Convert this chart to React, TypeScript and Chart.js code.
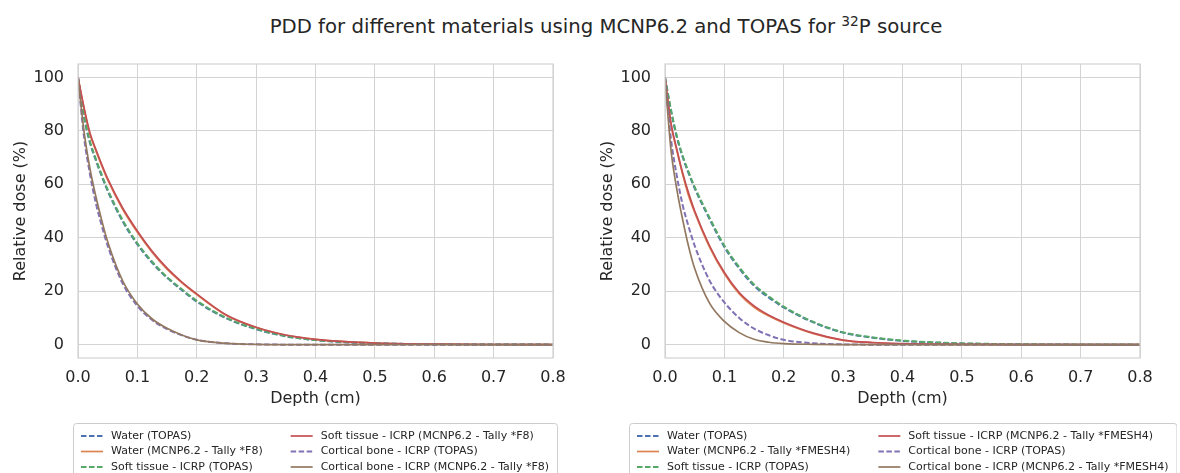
import React, { useEffect, useRef } from "react";
import { Chart, registerables } from "chart.js";

Chart.register(...registerables);

// ---------- data ----------
const DEPTH = [0, 0.01, 0.02, 0.03, 0.04, 0.05, 0.075, 0.1, 0.125, 0.15, 0.175, 0.2, 0.25, 0.3, 0.35, 0.4, 0.45, 0.5, 0.6, 0.7, 0.8];
const X_TICKS = [0, 0.1, 0.2, 0.3, 0.4, 0.5, 0.6, 0.7, 0.8];
const Y_TICKS = [0, 20, 40, 60, 80, 100];

// Left panel (MCNP6.2 Tally *F8)
const WATER_TOPAS_L = [100, 85.3, 75.6, 69, 63, 57.5, 46.2, 37.5, 30.6, 25, 20.4, 16.1, 9.8, 5.8, 3.1, 1.7, 0.9, 0.5, 0.15, 0.05, 0];
const WATER_MCNP_L = [100, 88.4, 78.8, 72.6, 66.9, 61.6, 50.7, 42, 34.5, 28.2, 23.1, 18.7, 10.9, 6.4, 3.5, 2, 1.1, 0.6, 0.2, 0.05, 0];
const SOFT_TOPAS_L = [100, 85.7, 76.1, 69.5, 63.5, 58, 46.7, 37.9, 31, 25.3, 20.7, 16.4, 10, 5.9, 3.2, 1.7, 0.95, 0.5, 0.15, 0.05, 0];
const SOFT_MCNP_L = [100, 88.9, 79.3, 73.1, 67.4, 62.1, 51.2, 42.5, 34.9, 28.6, 23.4, 19, 11.1, 6.5, 3.6, 2, 1.1, 0.6, 0.2, 0.05, 0];
const BONE_TOPAS_L = [100, 78, 64, 53, 44.5, 37, 23, 14.5, 9.2, 5.8, 3.5, 1.8, 0.5, 0.1, 0, 0, 0, 0, 0, 0, 0];
const BONE_MCNP_L = [100, 80, 66, 55.5, 46.5, 38.5, 24, 15.2, 9.6, 6.1, 3.6, 1.8, 0.5, 0.1, 0, 0, 0, 0, 0, 0, 0];

// Right panel (MCNP6.2 Tally *FMESH4)
const WATER_TOPAS_R = [100, 87.5, 77.5, 70, 64, 58.5, 47, 36.5, 28.5, 22, 17.6, 13.9, 8.3, 4.5, 2.6, 1.4, 0.8, 0.4, 0.1, 0, 0];
const WATER_MCNP_R = [100, 82.5, 72.5, 63.5, 55.5, 49.5, 36.5, 26.5, 19, 14, 10.7, 8.1, 4.1, 1.6, 0.7, 0.3, 0.1, 0.1, 0, 0, 0];
const SOFT_TOPAS_R = [100, 88, 78, 70.5, 64.5, 59, 47.5, 37, 29, 22.5, 18, 14.2, 8.5, 4.6, 2.7, 1.5, 0.9, 0.5, 0.15, 0.05, 0];
const SOFT_MCNP_R = [100, 83, 73, 64, 56.5, 50, 37, 27, 19.5, 14.5, 11, 8.4, 4.3, 1.7, 0.8, 0.4, 0.2, 0.1, 0, 0, 0];
const BONE_TOPAS_R = [100, 77, 63, 52, 44, 37, 24, 15.8, 10, 6, 3.5, 1.8, 0.5, 0.1, 0, 0, 0, 0, 0, 0, 0];
const BONE_MCNP_R = [100, 73, 58, 46.5, 36.5, 28.5, 15.5, 8.7, 4.5, 2, 0.9, 0.4, 0.1, 0, 0, 0, 0, 0, 0, 0, 0];

const LABELS_L = [
  "Water (TOPAS)",
  "Water (MCNP6.2 - Tally *F8)",
  "Soft tissue - ICRP (TOPAS)",
  "Soft tissue - ICRP (MCNP6.2 - Tally *F8)",
  "Cortical bone - ICRP (TOPAS)",
  "Cortical bone - ICRP (MCNP6.2 - Tally *F8)",
];
const LABELS_R = [
  "Water (TOPAS)",
  "Water (MCNP6.2 - Tally *FMESH4)",
  "Soft tissue - ICRP (TOPAS)",
  "Soft tissue - ICRP (MCNP6.2 - Tally *FMESH4)",
  "Cortical bone - ICRP (TOPAS)",
  "Cortical bone - ICRP (MCNP6.2 - Tally *FMESH4)",
];
const COLORS = ["#4C72B0", "#DD8452", "#55A868", "#C44E52", "#8172B3", "#937860"];
const DASHED = [true, false, true, false, true, false];

const FONT = '"DejaVu Sans", "Noto Sans", sans-serif';
const TEXT = "#262626";
const GRID = "#d3d3d3";

// ---------- plugins ----------
const framePlugin = {
  id: "frame",
  afterDatasetsDraw(chart: any) {
    const { ctx, chartArea: a } = chart;
    ctx.save();
    ctx.strokeStyle = GRID;
    ctx.lineWidth = 1.2;
    ctx.strokeRect(a.left, a.top, a.right - a.left, a.bottom - a.top);
    ctx.restore();
  },
};

function makeLegendPlugin(labels: string[]) {
  return {
    id: "boxLegend",
    afterDraw(chart: any) {
      const { ctx, chartArea: a } = chart;
      ctx.save();
      ctx.font = `11px ${FONT}`;
      const cols = [[0, 1, 2], [3, 4, 5]];
      const colW = cols.map((c) => Math.max(...c.map((i) => ctx.measureText(labels[i]).width)));
      const pad = 8, handle = 22, gap = 8, colSp = 28;
      const totalW = pad * 2 + 2 * (handle + gap) + colW[0] + colW[1] + colSp;
      const cx = (a.left + a.right) / 2;
      const x0 = Math.round(cx - totalW / 2);
      const top = 423, firstRow = 436, rowH = 15.5;
      ctx.fillStyle = "#ffffff";
      ctx.strokeStyle = "#cccccc";
      ctx.lineWidth = 1;
      ctx.beginPath();
      if (ctx.roundRect) ctx.roundRect(x0 + 0.5, top + 0.5, totalW, 80, 3);
      else ctx.rect(x0 + 0.5, top + 0.5, totalW, 80);
      ctx.fill();
      ctx.stroke();
      cols.forEach((c, ci) => {
        const cxs = x0 + pad + ci * (handle + gap + colW[0] + colSp);
        c.forEach((idx, ri) => {
          const y = firstRow + ri * rowH;
          ctx.strokeStyle = COLORS[idx];
          ctx.lineWidth = DASHED[idx] ? 2 : 1.7;
          ctx.setLineDash(DASHED[idx] ? [5.5, 2.5] : []);
          ctx.beginPath();
          ctx.moveTo(cxs, y);
          ctx.lineTo(cxs + handle, y);
          ctx.stroke();
          ctx.setLineDash([]);
          ctx.fillStyle = TEXT;
          ctx.textBaseline = "middle";
          ctx.textAlign = "left";
          ctx.fillText(labels[idx], cxs + handle + gap, y);
        });
      });
      ctx.restore();
    },
  };
}

function buildConfig(series: number[][], labels: string[]): any {
  return {
    type: "line",
    data: {
      datasets: series.map((arr, i) => ({
        label: labels[i],
        data: DEPTH.map((d, j) => ({ x: d, y: arr[j] })),
        borderColor: COLORS[i],
        backgroundColor: COLORS[i],
        borderWidth: DASHED[i] ? 2 : 1.7,
        borderDash: DASHED[i] ? [5.5, 2.5] : [],
        pointRadius: 0,
        fill: false,
        cubicInterpolationMode: "monotone",
        order: series.length - i,
      })),
    },
    options: {
      animation: false,
      responsive: false,
      devicePixelRatio: 1,
      layout: { padding: { left: 0, right: 37, top: 64, bottom: 65 } },
      plugins: {
        legend: { display: false },
        tooltip: { enabled: false },
        title: { display: false },
      },
      elements: { point: { radius: 0 } },
      scales: {
        x: {
          type: "linear",
          min: 0,
          max: 0.8,
          afterBuildTicks: (s: any) => {
            s.ticks = X_TICKS.map((v) => ({ value: v }));
          },
          afterFit: (s: any) => {
            s.height = 50;
          },
          grid: { color: GRID, lineWidth: 1, drawTicks: false },
          border: { display: false },
          ticks: {
            padding: 10,
            autoSkip: false,
            maxRotation: 0,
            color: TEXT,
            font: { family: FONT, size: 16 },
            callback: (v: any) => Number(v).toFixed(1),
          },
          title: {
            display: true,
            text: "Depth (cm)",
            color: TEXT,
            font: { family: FONT, size: 16 },
            padding: { top: 0, bottom: 0 },
          },
        },
        y: {
          type: "linear",
          min: -5,
          max: 105,
          afterBuildTicks: (s: any) => {
            s.ticks = Y_TICKS.map((v) => ({ value: v }));
          },
          afterFit: (s: any) => {
            s.width = 78;
          },
          grid: { color: GRID, lineWidth: 1, drawTicks: false },
          border: { display: false },
          ticks: {
            padding: 14,
            color: TEXT,
            font: { family: FONT, size: 16 },
            callback: (v: any) => String(v),
          },
          title: {
            display: true,
            text: "Relative dose (%)",
            color: TEXT,
            font: { family: FONT, size: 16 },
            padding: { top: 11, bottom: 0 },
          },
        },
      },
    },
    plugins: [framePlugin, makeLegendPlugin(labels)],
  };
}

function Panel({ left, series, labels }: { left: number; series: number[][]; labels: string[] }) {
  const ref = useRef<HTMLCanvasElement | null>(null);
  useEffect(() => {
    if (!ref.current) return;
    const chart = new Chart(ref.current, buildConfig(series, labels));
    return () => chart.destroy();
  }, []);
  return (
    <canvas
      ref={ref}
      width={590}
      height={473}
      style={{ position: "absolute", left, top: 0, width: 590, height: 473 }}
    />
  );
}

export default function App() {
  return (
    <div style={{ position: "absolute", left: 0, top: 0, width: 1180, height: 473, background: "#fff", overflow: "hidden" }}>
      <div
        style={{
          position: "absolute",
          left: 606,
          top: 27,
          transform: "translate(-50%, -50%)",
          whiteSpace: "nowrap",
          fontFamily: FONT,
          fontSize: 19.7,
          color: TEXT,
          lineHeight: 1.2,
        }}
      >
        PDD for different materials using MCNP6.2 and TOPAS for{" "}
        <span style={{ fontSize: "0.7em", position: "relative", top: "-0.5em" }}>32</span>P source
      </div>
      <Panel
        left={0}
        series={[WATER_TOPAS_L, WATER_MCNP_L, SOFT_TOPAS_L, SOFT_MCNP_L, BONE_TOPAS_L, BONE_MCNP_L]}
        labels={LABELS_L}
      />
      <Panel
        left={587}
        series={[WATER_TOPAS_R, WATER_MCNP_R, SOFT_TOPAS_R, SOFT_MCNP_R, BONE_TOPAS_R, BONE_MCNP_R]}
        labels={LABELS_R}
      />
    </div>
  );
}
